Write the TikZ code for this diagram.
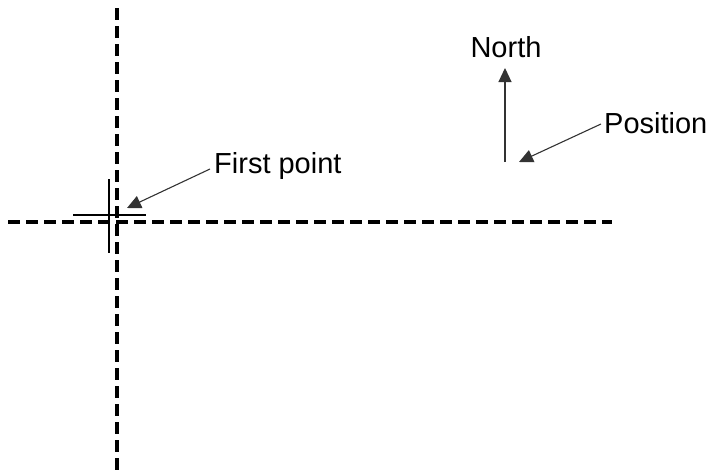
\documentclass[tikz,border=0pt]{standalone}
\usepackage{fontspec}
\setmainfont{Liberation Sans}
\usetikzlibrary{arrows.meta}
\begin{document}
\begin{tikzpicture}[x=1pt,y=-1pt,
  guide/.style={line width=3.2pt,dash pattern=on 12pt off 6pt},
  crossline/.style={line width=2.6pt},
  pointer/.style={line width=1.1pt,draw=black!80,-{Triangle[length=14pt,width=13pt]}},
  lbl/.style={font=\fontsize{29}{32}\selectfont,inner sep=0pt}]
\useasboundingbox (0,0) rectangle (717,474);
% guides
\coordinate (vt) at (117,8);
\coordinate (vb) at (117,474);
\coordinate (hl) at (8,222);
\coordinate (hr) at (612,222);
\draw[guide] (vt) -- (vb);
\draw[guide] (hl) -- (hr);
% cross
\coordinate (cl) at (73,215);
\coordinate (cr) at (146,215);
\coordinate (ct) at (109,179);
\coordinate (cb) at (109,253);
\draw[crossline] (cl) -- (cr);
\draw[crossline] (ct) -- (cb);
% labels
\node[lbl,anchor=west] (fp) at (214,166) {First point};
\node[lbl] (north) at (506,47) {North};
\node[lbl,anchor=west] (pos) at (604,123) {Position};
% arrows
\coordinate (fptip) at (127,208);
\coordinate (fpstart) at (210,169);
\draw[pointer] (fpstart) -- (fptip);
\coordinate (nb) at (505,162);
\coordinate (nt) at (505,68);
\draw[pointer] (nb) -- (nt);
\coordinate (pstart) at (601,124);
\coordinate (ptip) at (519,162);
\draw[pointer] (pstart) -- (ptip);
\end{tikzpicture}
\end{document}
